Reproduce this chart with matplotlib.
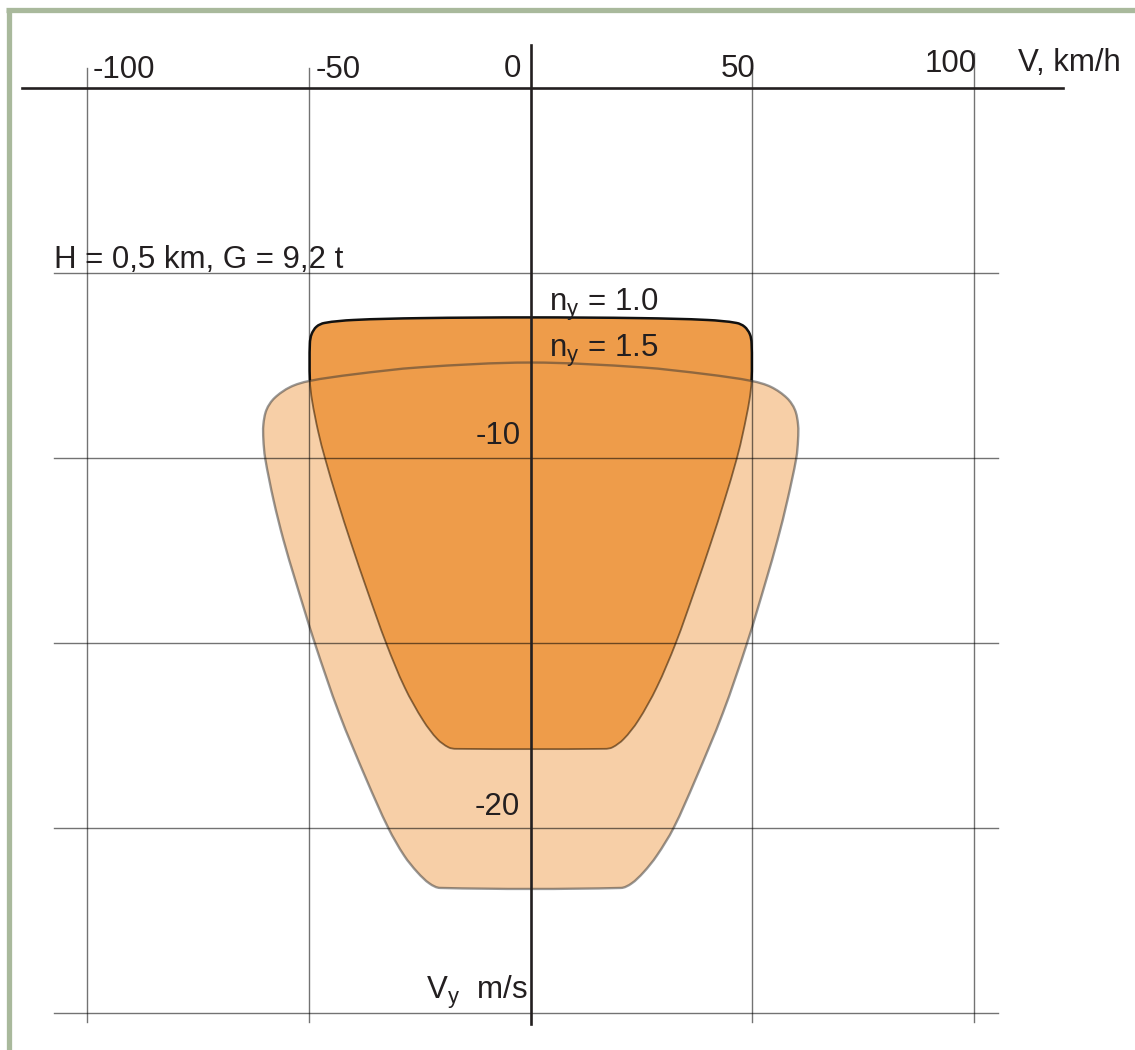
import math
import matplotlib
matplotlib.use("Agg")
import matplotlib.pyplot as plt
from matplotlib.lines import Line2D
from matplotlib.path import Path
from matplotlib.patches import PathPatch

plt.rcParams['font.family'] = ['Liberation Sans', 'DejaVu Sans']
plt.rcParams['mathtext.fontset'] = 'custom'
plt.rcParams['mathtext.rm'] = 'Liberation Sans'
plt.rcParams['mathtext.it'] = 'Liberation Sans:italic'

# ---------------- data ----------------
x_ticks = [-100, -50, 0, 50, 100]
x_tick_labels = ["-100", "-50", "0", "50", "100"]
y_grid = [-5, -10, -15, -20, -25]
y_tick_labels = {-10: "-10", -20: "-20"}

# n_y = 1.0 envelope (V km/h, Vy m/s), clockwise from the left side
ny10_V = [-49.8, -49.8, -49.4, -48.3, -46.5, -40, -25, 0, 25, 40, 46.5, 48.3, 49.5, 49.9,
          49.9, 49.4, 48.0, 46.6, 43.8, 40.7, 37.0, 32.8, 28.5, 24.3, 21.0, 18.5, 16.8,
          -16.8, -18.5, -21.0, -24.2, -28.4, -32.6, -36.8, -40.5, -43.6, -46.4, -47.9, -49.3]
ny10_Vy = [-7.9, -6.9, -6.65, -6.45, -6.35, -6.27, -6.22, -6.2, -6.22, -6.27, -6.35, -6.45, -6.65, -6.9,
           -7.9, -8.45, -9.3, -10.0, -11.14, -12.3, -13.6, -15.0, -16.2, -17.1, -17.6, -17.82, -17.86,
           -17.86, -17.82, -17.6, -17.1, -16.2, -15.0, -13.6, -12.3, -11.14, -10.0, -9.3, -8.45]

# n_y = 1.5 envelope
ny15_V = [-50, -40, -25, 0, 25, 40, 50, 54.3, 57.9, 59.7, 60.4, 60.4, 60.0, 58.0, 55.8, 53.2,
          48.9, 43.4, 37.2, 32.3, 28.5, 25.5, 22.8, 20.4,
          -20.4, -22.8, -25.5, -28.5, -32.1, -37.0, -43.2, -48.7, -53.1, -55.8, -58.0, -59.9,
          -60.3, -60.3, -59.6, -57.8, -54.2]
ny15_Vy = [-7.92, -7.74, -7.55, -7.42, -7.55, -7.74, -7.92, -8.08, -8.38, -8.7, -9.1, -9.5, -10.0, -11.14, -12.2, -13.3,
           -15.0, -16.9, -18.7, -20.0, -20.75, -21.2, -21.5, -21.62,
           -21.62, -21.5, -21.2, -20.75, -20.0, -18.7, -16.9, -15.0, -13.3, -12.2, -11.14, -10.0,
           -9.5, -9.1, -8.7, -8.38, -8.08]

label_ny10 = r"n$_{\mathregular{y}}$ = 1.0"
label_ny15 = r"n$_{\mathregular{y}}$ = 1.5"
label_cond = "H = 0,5 km, G = 9,2 t"
label_x = "V, km/h"
label_y = r"V$_{\mathregular{y}}$  m/s"

W, H = 1135, 1050
x0px, sx = 530.5, 4.43
y0px, sy = 88.0, 37.0


def bezier_segments(xs, ys):
    """Closed smooth curve through the given points (tangent from neighbours,
    handle length a third of each segment, measured in screen proportions)."""
    n = len(xs)
    P = [(xs[i] * sx, ys[i] * sy) for i in range(n)]
    T = []
    for i in range(n):
        dx = P[(i + 1) % n][0] - P[i - 1][0]
        dy = P[(i + 1) % n][1] - P[i - 1][1]
        d = math.hypot(dx, dy) or 1.0
        T.append((dx / d, dy / d))
    segs = []
    for i in range(n):
        j = (i + 1) % n
        L = math.hypot(P[j][0] - P[i][0], P[j][1] - P[i][1]) / 3
        c1 = (P[i][0] + T[i][0] * L, P[i][1] + T[i][1] * L)
        c2 = (P[j][0] - T[j][0] * L, P[j][1] - T[j][1] * L)
        segs.append(tuple((p[0] / sx, p[1] / sy) for p in (P[i], c1, c2, P[j])))
    return segs


def seg_path(segs, close=False):
    verts = [segs[0][0]]
    codes = [Path.MOVETO]
    for (_, c1, c2, p2) in segs:
        verts += [c1, c2, p2]
        codes += [Path.CURVE4] * 3
    if close:
        verts.append(segs[0][0])
        codes.append(Path.CLOSEPOLY)
    return Path(verts, codes)


# ---------------- figure ----------------
fig = plt.figure(figsize=(W / 100, H / 100), dpi=100)
ax = fig.add_axes([0, 0, 1, 1])
ax.set_xlim(-x0px / sx, (W - x0px) / sx)
ax.set_ylim(-(H - y0px) / sy, y0px / sy)
ax.axis('off')

TXT = '#231f20'
FS = 22.5

# frame (green border, top and left)
fig.add_artist(Line2D([6 / W, 1], [1 - 10 / H, 1 - 10 / H], color='#a9b99c', lw=3.8,
                      transform=fig.transFigure, solid_capstyle='butt'))
fig.add_artist(Line2D([9 / W, 9 / W], [0, 1 - 10 / H], color='#a9b99c', lw=3.8,
                      transform=fig.transFigure, solid_capstyle='butt'))

seg15 = bezier_segments(ny15_V, ny15_Vy)
seg10 = bezier_segments(ny10_V, ny10_Vy)

# envelopes
ax.add_patch(PathPatch(seg_path(seg15, True), facecolor='#f7cfa7', lw=0, zorder=2))
ax.add_patch(PathPatch(seg_path(seg10, True), facecolor='#ee9c4a', lw=0, zorder=3))

# outlines of n_y = 1.0: lower part brownish, upper part black
ax.add_patch(PathPatch(seg_path(seg10[14:]), facecolor='none', edgecolor='#3a2208',
                       alpha=0.6, lw=1.3, zorder=4))
ax.add_patch(PathPatch(seg_path(seg10[:14]), facecolor='none', edgecolor='#111111',
                       lw=1.8, zorder=6))
# outline of n_y = 1.5 (semi-transparent, visible through the darker area)
ax.add_patch(PathPatch(seg_path(seg15, True), facecolor='none', edgecolor='#333333',
                       alpha=0.5, lw=1.7, zorder=5))

# grid
gtop = {-100: 0.54, -50: 0.54, 50: 0.54, 100: 0.95}
for xv in x_ticks:
    if xv == 0:
        continue
    ax.plot([xv, xv], [gtop[xv], -25.24], color='black', alpha=0.55, lw=1.0, zorder=7)
for yv in y_grid:
    ax.plot([-107.5, 105.5], [yv, yv], color='black', alpha=0.55, lw=1.0, zorder=7)

# main axes
ax.plot([-114.8, 120.2], [0, 0], color='#231f20', lw=1.9, zorder=8)
ax.plot([0, 0], [1.16, -25.3], color='#231f20', lw=1.9, zorder=8)

# x tick labels
xlab_pos = {-100: (-98.8, 0.27, 'left'), -50: (-48.6, 0.27, 'left'), 0: (-2.1, 0.30, 'right'),
            50: (43.0, 0.30, 'left'), 100: (89.0, 0.43, 'left')}
for xv, lab in zip(x_ticks, x_tick_labels):
    px, py, ha = xlab_pos[xv]
    ax.text(px, py, lab, fontsize=FS, color=TXT, ha=ha, va='baseline', zorder=10)
ax.text(110.0, 0.45, label_x, fontsize=FS, color=TXT, ha='left', va='baseline', zorder=10)

# y labels
ylab_pos = {-10: -9.62, -20: -19.65}
for yv, lab in y_tick_labels.items():
    ax.text(-2.3, ylab_pos[yv], lab, fontsize=FS, color=TXT, ha='right', va='baseline', zorder=10)
ax.text(-0.6, -24.62, label_y, fontsize=FS, color=TXT, ha='right', va='baseline', zorder=10)

ax.text(-107.6, -4.865, label_cond, fontsize=FS, color=TXT, ha='left', va='baseline', zorder=10)
ax.text(4.2, -6.03, label_ny10, fontsize=FS, color=TXT, ha='left', va='baseline', zorder=10)
ax.text(4.2, -7.27, label_ny15, fontsize=FS, color=TXT, ha='left', va='baseline', zorder=10)

fig.savefig("out.png", dpi=100, facecolor='white')
